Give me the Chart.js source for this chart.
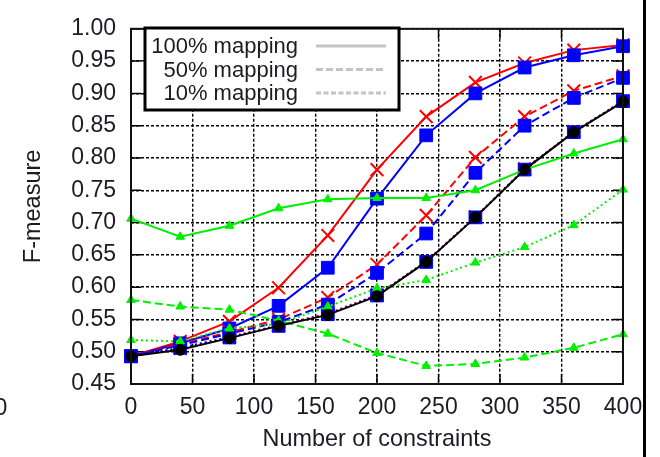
<!DOCTYPE html>
<html>
<head>
<meta charset="utf-8">
<script src="https://cdn.jsdelivr.net/npm/chart.js@4/dist/chart.umd.min.js"></script>
<style>
  html, body { margin: 0; padding: 0; background: #fff; }
  canvas { display: block; }
</style>
</head>
<body>
<canvas id="chart" width="660" height="457"></canvas>
<script>
// Number of constraints (x positions of every measurement)
const constraints = [0, 40, 80, 120, 160, 200, 240, 280, 320, 360, 400];

// F-measure per method and mapping percentage
const red100   = [0.493, 0.516, 0.547, 0.599, 0.680, 0.782, 0.864, 0.917, 0.947, 0.967, 0.975];
const blue100  = [0.493, 0.513, 0.536, 0.571, 0.630, 0.737, 0.835, 0.900, 0.940, 0.959, 0.973];
const red50    = [0.493, 0.512, 0.530, 0.550, 0.584, 0.635, 0.711, 0.801, 0.864, 0.904, 0.927];
const blue50   = [0.493, 0.510, 0.528, 0.546, 0.573, 0.622, 0.683, 0.777, 0.850, 0.893, 0.924];
const red10    = [0.493, 0.505, 0.523, 0.541, 0.559, 0.588, 0.640, 0.709, 0.783, 0.841, 0.888];
const blue10   = [0.493, 0.506, 0.522, 0.540, 0.558, 0.587, 0.639, 0.708, 0.782, 0.840, 0.888];
const green100 = [0.706, 0.678, 0.695, 0.722, 0.736, 0.738, 0.738, 0.750, 0.782, 0.807, 0.829];
const green50  = [0.580, 0.570, 0.565, 0.548, 0.528, 0.498, 0.478, 0.481, 0.491, 0.506, 0.527];
const green10  = [0.518, 0.516, 0.536, 0.543, 0.570, 0.598, 0.611, 0.638, 0.662, 0.696, 0.751];
const black    = [0.493, 0.503, 0.521, 0.540, 0.557, 0.586, 0.639, 0.708, 0.782, 0.840, 0.887];

// Axis ticks
const xTicks = [0, 50, 100, 150, 200, 250, 300, 350, 400];
const yTicks = [0.45, 0.50, 0.55, 0.60, 0.65, 0.70, 0.75, 0.80, 0.85, 0.90, 0.95, 1.00];

// Legend entries (line style per mapping percentage)
const mappingLabels = ['100% mapping', '50% mapping', '10% mapping'];

const FONT = "'Liberation Sans', Arial, Helvetica, sans-serif";
const TEXT = '#1b1b24';
const SOLID = [], DASHED = [8, 4], DOTTED = [2, 3];

function pts(values) {
  return values.map((v, i) => ({ x: constraints[i], y: v }));
}

function series(values, color, dash, style, radius, order) {
  return {
    data: pts(values),
    borderColor: color,
    backgroundColor: color,
    borderWidth: 2,
    borderDash: dash,
    pointStyle: style,
    pointRadius: radius,
    pointBorderWidth: style === 'crossRot' ? 2 : 1,
    pointBorderColor: color,
    pointBackgroundColor: color,
    tension: 0,
    clip: false,
    order: order
  };
}

const frameAndLegend = {
  id: 'frameAndLegend',
  beforeDatasetsDraw(chart) {
    const { ctx, chartArea: a, scales } = chart;
    ctx.save();
    ctx.strokeStyle = '#000';
    ctx.lineWidth = 1.5;
    ctx.beginPath();
    const len = 10;
    xTicks.forEach(v => {
      const px = scales.x.getPixelForValue(v);
      ctx.moveTo(px, a.bottom); ctx.lineTo(px, a.bottom - len);
      ctx.moveTo(px, a.top); ctx.lineTo(px, a.top + len);
    });
    yTicks.forEach(v => {
      const py = scales.y.getPixelForValue(v);
      ctx.moveTo(a.left, py); ctx.lineTo(a.left + len, py);
      ctx.moveTo(a.right, py); ctx.lineTo(a.right - len, py);
    });
    ctx.stroke();
    ctx.restore();
  },
  afterDatasetsDraw(chart) {
    const { ctx, chartArea: a } = chart;
    ctx.save();
    // plot frame
    ctx.strokeStyle = '#111';
    ctx.lineWidth = 2;
    ctx.strokeRect(a.left, a.top, a.right - a.left, a.bottom - a.top);

    // legend box
    const bx = 145, by = 28, bw = 254, bh = 82;
    ctx.fillStyle = '#fff';
    ctx.fillRect(bx, by, bw, bh);
    ctx.lineWidth = 3;
    ctx.strokeStyle = '#000';
    ctx.strokeRect(bx, by, bw, bh);

    const dashes = [SOLID, [7, 3], [5, 2.5]];
    ctx.font = `22px ${FONT}`;
    ctx.textAlign = 'right';
    ctx.textBaseline = 'middle';
    mappingLabels.forEach((label, i) => {
      const y = by + 18 + i * 23.5;
      ctx.fillStyle = TEXT;
      ctx.fillText(label, bx + 153, y + 1);
      ctx.strokeStyle = '#c4c4c4';
      ctx.lineWidth = 3;
      ctx.setLineDash(dashes[i]);
      ctx.beginPath();
      ctx.moveTo(bx + 171, y);
      ctx.lineTo(bx + 241, y);
      ctx.stroke();
    });
    ctx.setLineDash([]);
    ctx.restore();
  },
  afterDraw(chart) {
    const { ctx } = chart;
    ctx.save();
    // neighbouring panel edge and its last tick label
    ctx.fillStyle = '#000';
    ctx.fillRect(643, 0, 3, chart.height);
    ctx.font = `23px ${FONT}`;
    ctx.fillStyle = TEXT;
    ctx.textAlign = 'center';
    ctx.textBaseline = 'middle';
    ctx.fillText('0', 1, 409);
    ctx.restore();
  }
};

new Chart(document.getElementById('chart'), {
  type: 'line',
  data: {
    datasets: [
      series(red100,   '#ff0000', SOLID,  'crossRot', 9, 10),
      series(blue100,  '#0000ff', SOLID,  'rect',     9, 9),
      series(red50,    '#ff0000', DASHED, 'crossRot', 9, 8),
      series(blue50,   '#0000ff', DASHED, 'rect',     9, 7),
      series(red10,    '#ff0000', DOTTED, 'crossRot', 9, 6),
      series(blue10,   '#0000ff', DOTTED, 'rect',     9, 5),
      series(green100, '#00f000', SOLID,  'triangle', 5, 4),
      series(green50,  '#00f000', DASHED, 'triangle', 5, 3),
      series(green10,  '#00f000', DOTTED, 'triangle', 5, 2),
      series(black,    '#000000', SOLID,  'circle',   5.5, 1)
    ]
  },
  options: {
    responsive: false,
    animation: false,
    events: [],
    layout: { padding: { left: 0, right: 37, top: 16, bottom: 0 } },
    plugins: { legend: { display: false }, tooltip: { enabled: false } },
    scales: {
      x: {
        type: 'linear',
        min: 0, max: 400,
        afterBuildTicks: s => { s.ticks = xTicks.map(v => ({ value: v })); },
        afterFit: s => { s.height = 73; },
        ticks: { padding: 10, color: TEXT, font: { family: FONT, size: 23 } },
        grid: { color: '#000', lineWidth: 1.4, drawTicks: false },
        border: { display: false, dash: [3, 2] },
        title: {
          display: true, text: 'Number of constraints', color: TEXT,
          font: { family: FONT, size: 23.4 }, padding: { top: 0, bottom: 3 }
        }
      },
      y: {
        type: 'linear',
        min: 0.45, max: 1.0,
        afterBuildTicks: s => { s.ticks = yTicks.map(v => ({ value: v })); },
        afterFit: s => { s.width = 131; },
        ticks: {
          padding: 15, color: TEXT, font: { family: FONT, size: 23 },
          callback: v => Number(v).toFixed(2)
        },
        grid: { color: '#000', lineWidth: 1.4, drawTicks: false },
        border: { display: false, dash: [3, 2] },
        title: {
          display: true, text: 'F-measure', color: TEXT,
          font: { family: FONT, size: 23.5 }, padding: { top: 19, bottom: 0 }
        }
      }
    }
  },
  plugins: [frameAndLegend]
});
</script>
</body>
</html>
